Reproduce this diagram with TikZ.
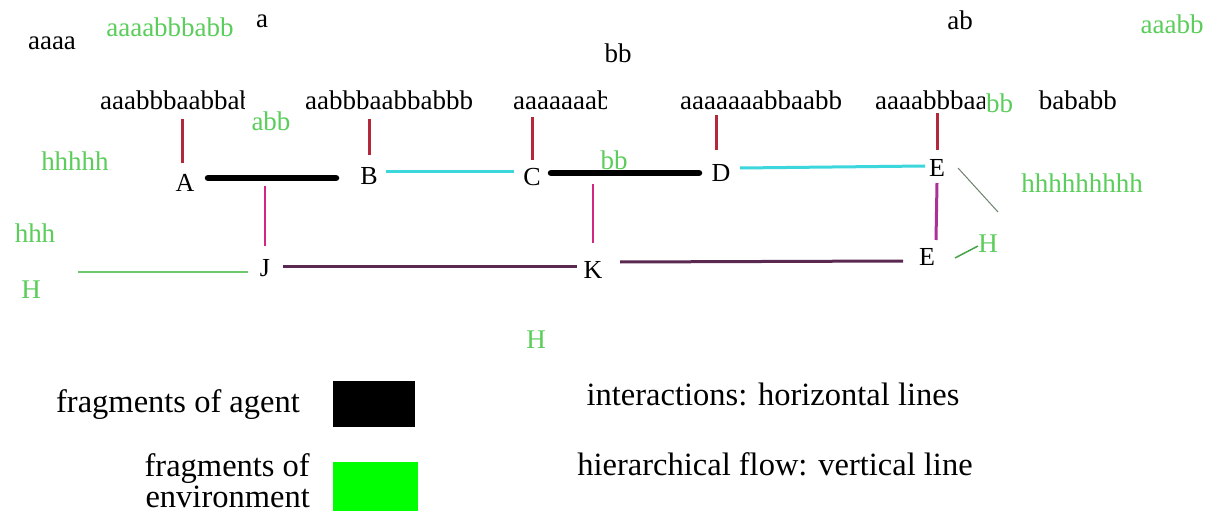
\documentclass[tikz,border=0pt]{standalone}
\usepackage{fontspec}
\setmainfont{Liberation Serif}
\definecolor{envgreen}{RGB}{90,205,90}
\definecolor{tagred}{RGB}{180,40,60}
\definecolor{interc}{RGB}{60,215,220}
\definecolor{hierc}{RGB}{210,40,130}
\definecolor{hierc2}{RGB}{170,50,150}
\definecolor{linkc}{RGB}{90,40,80}
\definecolor{hline}{RGB}{110,200,110}
\definecolor{greyline}{RGB}{110,130,110}
\definecolor{purered}{RGB}{0,255,0}
\begin{document}
\begin{tikzpicture}[x=1pt,y=-1pt,
  txt/.style={inner sep=0pt, font=\fontsize{27}{30}\selectfont},
  gtxt/.style={txt, text=envgreen},
  letter/.style={inner sep=1pt, font=\fontsize{26}{30}\selectfont},
  lgd/.style={inner sep=0pt, font=\fontsize{32.5}{31}\selectfont},
  tag/.style={draw=tagred, line width=3pt},
  agent/.style={line width=6.5pt, line cap=round},
  inter/.style={draw=interc, line width=3pt},
  hier/.style={draw=hierc, line width=2.5pt},
  hiertwo/.style={draw=hierc2, line width=3pt},
  link/.style={draw=linkc, line width=3pt},
  envline/.style={draw=hline, line width=1.5pt},
  thinline/.style={draw=greyline, line width=1pt}]
\useasboundingbox[fill=white] (0,0) rectangle (1224,516);

% free labels
\node[txt] (t1) at (52,43) {aaaa};
\node[gtxt] (t2) at (170,27) {aaaabbbabb};
\node[txt] (t3) at (262,21) {a};
\node[txt] (t4) at (618,53) {bb};
\node[txt] (t5) at (960,20) {ab};
\node[gtxt] (t6) at (1172,24) {aaabb};

% label row
\begin{scope}
  \clip (90,80) rectangle (244,125);
  \node[txt, anchor=base west] (r1) at (100,110) {aaabbbaabbabb};
\end{scope}
\node[txt, anchor=base west] (r2) at (305,110) {aabbbaabbabbb};
\begin{scope}
  \clip (500,80) rectangle (606,125);
  \node[txt, anchor=base west] (r3) at (513,110) {aaaaaaabbaabb};
\end{scope}
\node[txt, anchor=base west] (r4) at (680,110) {aaaaaaabbaabb};
\begin{scope}
  \clip (860,80) rectangle (986,125);
  \node[txt, anchor=base west] (r5) at (875,110) {aaaabbbaabb};
\end{scope}
\node[gtxt, anchor=base west, fill=white, inner sep=1pt] (r5g) at (985,113) {bb};
\begin{scope}
  \clip (1030,80) rectangle (1140,125);
  \node[txt, anchor=base east] (r6) at (1117,110) {bababb};
\end{scope}

% green environment labels
\node[gtxt] (g1) at (271,121) {abb};
\node[gtxt] (g2) at (75,161) {hhhhh};
\node[gtxt] (g3) at (35,233) {hhh};
\node[gtxt] (g4) at (31,290) {H};
\node[gtxt] (g5) at (614,160) {bb};
\node[gtxt] (g6) at (1082,183) {hhhhhhhhh};
\node[gtxt] (g7) at (988,244) {H};
\node[gtxt] (g8) at (536,340) {H};

% main nodes
\node[letter] (A) at (185,183) {A};
\node[letter] (B) at (369,176) {B};
\node[letter] (C) at (532,177) {C};
\node[letter] (D) at (721,173) {D};
\node[letter] (E1) at (937,168) {E};
\node[letter] (E2) at (927,257) {E};
\node[letter] (J) at (265,268) {J};
\node[letter] (K) at (593,270) {K};

% tag coordinates
\coordinate (rA1) at (182,119); \coordinate (rA2) at (182,163);
\coordinate (rB1) at (369,119); \coordinate (rB2) at (369,155);
\coordinate (rC1) at (532,117); \coordinate (rC2) at (532,160);
\coordinate (rD1) at (716,115); \coordinate (rD2) at (716,150);
\coordinate (rE1) at (937,113); \coordinate (rE2) at (937,150);
\draw[tag] (rA1) -- (rA2);
\draw[tag] (rB1) -- (rB2);
\draw[tag] (rC1) -- (rC2);
\draw[tag] (rD1) -- (rD2);
\draw[tag] (rE1) -- (rE2);

% agent fragments
\coordinate (ab1) at (208,178); \coordinate (ab2) at (336,178);
\coordinate (cd1) at (551,173); \coordinate (cd2) at (699,173);
\draw[agent] (ab1) -- (ab2);
\draw[agent] (cd1) -- (cd2);

% interactions
\coordinate (bc1) at (386,172); \coordinate (bc2) at (514,172);
\coordinate (de1) at (740,168); \coordinate (de2) at (925,166);
\draw[inter] (bc1) -- (bc2);
\draw[inter] (de1) -- (de2);

% hierarchical flow
\coordinate (aj1) at (265,186); \coordinate (aj2) at (265,246);
\coordinate (ck1) at (593,184); \coordinate (ck2) at (593,243);
\coordinate (ee1) at (937,183); \coordinate (ee2) at (936,240);
\draw[hier] (aj1) -- (aj2);
\draw[hier] (ck1) -- (ck2);
\draw[hiertwo] (ee1) -- (ee2);

% lower links
\coordinate (jk1) at (283,266); \coordinate (jk2) at (577,266);
\coordinate (ke1) at (620,262); \coordinate (ke2) at (903,261);
\draw[link] (jk1) -- (jk2);
\draw[link] (ke1) -- (ke2);

% environment links
\coordinate (hj1) at (78,272); \coordinate (hj2) at (248,272);
\draw[envline] (hj1) -- (hj2);
\coordinate (eh1) at (958,168); \coordinate (eh2) at (998,212);
\draw[thinline] (eh1) -- (eh2);
\coordinate (eh3) at (955,258); \coordinate (eh4) at (978,246);
\draw[envline, draw=envgreen!80!black] (eh3) -- (eh4);

% legend
\node[lgd] (l1) at (178,405) {fragments of agent};
\node[fill=black, minimum width=82pt, minimum height=46pt, inner sep=0pt] (k1) at (374,404) {};
\node[lgd, anchor=east, align=right] (l2) at (310,481) {fragments of\\environment};
\node[fill=purered, minimum width=85pt, minimum height=49pt, inner sep=0pt] (k2) at (375.5,486.5) {};
\node[lgd] (l3) at (773,394) {interactions: horizontal lines};
\node[lgd] (l4) at (775,464) {hierarchical flow: vertical line};
\end{tikzpicture}
\end{document}
